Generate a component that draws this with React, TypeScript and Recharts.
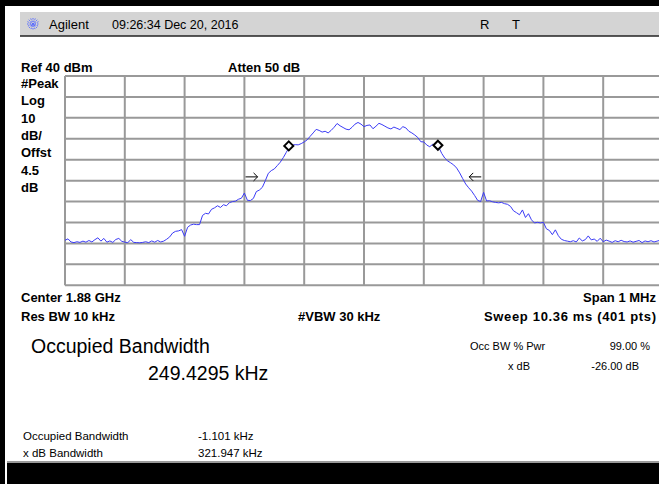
import { ComposedChart, Line, Scatter, XAxis, YAxis, CartesianGrid } from 'recharts';

// frequency offsets from center (kHz) and display levels (dBm)
const FREQ_TICKS = [-500, -400, -300, -200, -100, 0, 100, 200, 300, 400, 500];
const LEVEL_TICKS = [-60, -50, -40, -30, -20, -10, 0, 10, 20, 30, 40];
const START_KHZ = -500;
const STEP_KHZ = 5;

// trace, one row per 100 kHz division
const traceDbm = [
  -38.5, -37.8, -39.3, -39.6, -39.2, -39.5, -38.9, -39.4, -38.6, -39.3, -38.2, -37.3, -38.9, -37.6, -39.4, -38.8, -39.5, -38.1, -37.6, -39.0,
  -39.4, -39.6, -38.2, -39.5, -39.6, -39.7, -39.5, -39.2, -39.6, -38.8, -39.4, -38.6, -39.3, -38.9, -38.0, -36.9, -35.0, -34.2, -34.0, -33.4,
  -36.6, -32.3, -31.2, -30.8, -31.0, -31.0, -26.6, -25.6, -25.9, -23.7, -23.0, -22.0, -22.8, -21.5, -22.0, -20.5, -20.0, -19.8, -18.9, -18.4,
  -15.9, -19.4, -19.5, -18.5, -15.2, -14.5, -13.2, -10.0, -6.5, -5.2, -4.4, -2.8, -1.2, 1.0, 3.5, 6.0, 7.0, 7.2, 7.1, 7.7,
  8.5, 9.5, 11.2, 12.8, 14.5, 14.0, 13.2, 13.6, 12.8, 14.0, 15.5, 17.3, 16.2, 15.4, 14.6, 14.3, 15.5, 17.0, 17.8, 17.0,
  15.8, 16.4, 16.6, 14.8, 16.0, 17.4, 16.8, 16.0, 15.2, 14.7, 15.6, 15.0, 14.4, 15.8, 15.2, 13.6, 12.8, 11.8, 10.6, 8.6,
  8.5, 7.0, 6.2, 7.4, 7.0, 6.0, 3.0, 0.8, -0.6, -1.5, -2.5, -4.0, -6.3, -9.0, -11.6, -13.4, -15.0, -17.1, -19.4, -20.0,
  -15.6, -19.7, -19.6, -20.1, -20.4, -20.6, -20.4, -21.0, -21.3, -22.3, -24.4, -25.3, -26.3, -24.0, -27.6, -25.8, -28.7, -30.2, -29.9, -30.2,
  -29.9, -33.0, -33.8, -35.8, -33.5, -36.3, -38.0, -38.6, -38.9, -39.2, -38.7, -39.3, -37.4, -38.8, -38.2, -36.4, -38.3, -37.9, -39.0, -37.5,
  -39.2, -38.4, -38.9, -39.5, -38.7, -39.2, -38.5, -39.1, -39.3, -38.8, -39.4, -39.0, -38.6, -39.6, -38.8, -39.2, -38.7, -39.3, -38.9, -38.5, -36.2,
];

// occupied bandwidth edges (diamonds) and x dB markers (arrows)
const obwMarkers = [
  { f: -125.8, v: 6.6 },
  { f: 123.6, v: 6.9 },
];
const xdbArrows = [
  { f: -188, v: -8.2, dir: 1 },
  { f: 186, v: -8.2, dir: -1 },
];

const sideLabels = ['#Peak', 'Log', '10', 'dB/', 'Offst', '4.5', 'dB'];

const traceData = traceDbm.map((v, i) => ({ f: START_KHZ + i * STEP_KHZ, v }));

const FONT = '"Liberation Sans", Arial, sans-serif';
const TRACE = '#3a3af5';
const GRID = '#999999';

const Diamond = (props: any) => {
  const { cx, cy } = props;
  const r = 4.5;
  return (
    <path
      d={`M${cx},${cy - r} L${cx + r},${cy} L${cx},${cy + r} L${cx - r},${cy} Z`}
      fill="#fff"
      stroke="#000"
      strokeWidth={2}
    />
  );
};

const Arrow = (props: any) => {
  const { cx, cy, payload } = props;
  const d = payload.dir;
  const tip = cx + d * 6;
  return (
    <path
      d={`M${cx - 6},${cy} L${cx + 6},${cy} M${tip - d * 4},${cy - 4} L${tip},${cy} L${tip - d * 4},${cy + 4}`}
      fill="none"
      stroke="#000"
      strokeWidth={1}
    />
  );
};

const Logo = () => {
  const rays = [0, 22.5, 45, 67.5, 90, 112.5, 135, 157.5];
  return (
    <g transform="translate(33,24)">
      {rays.map((a) => {
        const rad = (a * Math.PI) / 180;
        const dx = Math.cos(rad) * 6;
        const dy = Math.sin(rad) * 6;
        return (
          <line key={a} x1={-dx} y1={-dy} x2={dx} y2={dy} stroke="#5a6cff" strokeWidth={1} strokeDasharray="1.5 1" />
        );
      })}
    </g>
  );
};

export default function App() {
  const bold = { fontFamily: FONT, fontWeight: 700, fontSize: 13, fill: '#000' };
  const plain = { fontFamily: FONT, fontSize: 12, fill: '#000' };
  return (
    <div style={{ position: 'fixed', left: 0, top: 0, width: 659, height: 484, background: '#fff', overflow: 'hidden' }}>
      <svg width={659} height={484} style={{ position: 'absolute', left: 0, top: 0 }}>
        {/* frame */}
        <rect x={0} y={0} width={659} height={6} fill="#000" />
        <rect x={0} y={0} width={5} height={484} fill="#000" />
        {/* title bar */}
        <rect x={20} y={12} width={640} height={24} fill="#d4d4d4" />
        <line x1={20} y1={36} x2={659} y2={36} stroke="#222" strokeWidth={1.5} />
        <Logo />
        <text x={49} y={29} style={{ ...plain, fontSize: 13 }}>Agilent</text>
        <text x={112} y={29} style={{ ...plain, fontSize: 12.5 }}>09:26:34  Dec 20, 2016</text>
        <text x={480} y={29} style={{ ...plain, fontSize: 13 }}>R</text>
        <text x={512} y={29} style={{ ...plain, fontSize: 13 }}>T</text>

        <text x={21} y={71.5} style={bold}>Ref 40 dBm</text>
        <text x={228} y={71.5} style={bold}>Atten 50 dB</text>
        {sideLabels.map((s, i) => (
          <text key={s + i} x={21} y={88 + i * 17.3} style={bold}>{s}</text>
        ))}

        <text x={21} y={301.5} style={bold}>Center 1.88 GHz</text>
        <text x={656} y={301.5} textAnchor="end" style={bold}>Span 1 MHz</text>
        <text x={21} y={320.5} style={bold}>Res BW 10 kHz</text>
        <text x={298} y={320.5} style={bold}>#VBW 30 kHz</text>
        <text x={484} y={320.5} textLength={172} lengthAdjust="spacing" style={bold}>Sweep 10.36 ms (401 pts)</text>

        <text x={31} y={353} style={{ ...plain, fontSize: 19.5 }}>Occupied Bandwidth</text>
        <text x={148} y={380} style={{ ...plain, fontSize: 19.5 }}>249.4295 kHz</text>
        <text x={470} y={350} style={{ ...plain, fontSize: 11 }}>Occ BW % Pwr</text>
        <text x={650} y={350} textAnchor="end" style={{ ...plain, fontSize: 11 }}>99.00 %</text>
        <text x={508} y={370} style={{ ...plain, fontSize: 11 }}>x dB</text>
        <text x={639} y={370} textAnchor="end" style={{ ...plain, fontSize: 11 }}>-26.00 dB</text>

        <text x={23} y={440} style={{ ...plain, fontSize: 11.5 }}>Occupied Bandwidth</text>
        <text x={198} y={440} style={{ ...plain, fontSize: 11.5 }}>-1.101 kHz</text>
        <text x={23} y={457} style={{ ...plain, fontSize: 11.5 }}>x dB Bandwidth</text>
        <text x={198} y={457} style={{ ...plain, fontSize: 11.5 }}>321.947 kHz</text>

        {/* status bar */}
        <rect x={7} y={461} width={652} height={2} fill="#9a9a9a" />
        <rect x={7} y={463} width={652} height={21} fill="#000" />
      </svg>

      <div style={{ position: 'absolute', left: 62.5, top: 73.7 }}>
        <ComposedChart
          width={602}
          height={213.3}
          data={traceData}
          margin={{ top: 2, right: 2, bottom: 2, left: 2 }}
        >
          <XAxis type="number" dataKey="f" domain={[-500, 500]} ticks={FREQ_TICKS} interval={0} hide />
          <YAxis type="number" dataKey="v" domain={[-60, 40]} ticks={LEVEL_TICKS} interval={0} hide />
          <CartesianGrid stroke={GRID} strokeWidth={2} />
          <Line
            type="linear"
            dataKey="v"
            stroke={TRACE}
            strokeWidth={1}
            dot={false}
            isAnimationActive={false}
          />
          <Scatter data={obwMarkers} dataKey="v" shape={Diamond} isAnimationActive={false} />
          <Scatter data={xdbArrows} dataKey="v" shape={Arrow} isAnimationActive={false} />
        </ComposedChart>
      </div>
    </div>
  );
}
